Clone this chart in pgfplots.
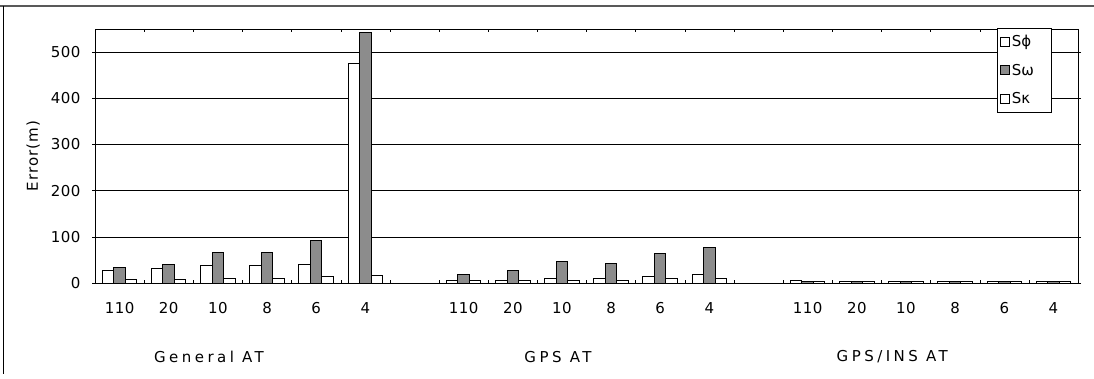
\documentclass[border=0pt]{standalone}
\usepackage{fontspec}
\setmainfont{DejaVu Sans}
\newfontfamily\lsA[LetterSpace=3]{DejaVu Sans}
\newfontfamily\lsY[LetterSpace=7]{DejaVu Sans}
\newfontfamily\lsB[LetterSpace=23]{DejaVu Sans}
\usepackage{pgfplots}
\pgfplotsset{compat=1.18}
\begin{document}
\begin{tikzpicture}[x=1pt,y=1pt]
\useasboundingbox (0,0) rectangle (1094,378);
\draw[line width=2pt, black!65] (0,372) -- (1094,372);
\draw[line width=0.8pt] (3,372) -- (3,4);
\begin{axis}[
  at={(95pt,95pt)}, anchor=south west,
  scale only axis, width=983pt, height=254pt,
  ybar=0pt, bar width=11.5pt,
  xmin=-0.5, xmax=19.5, ymin=0, ymax=550,
  xtick={0,1,2,3,4,5,7,8,9,10,11,12,14,15,16,17,18,19},
  xticklabels={110,20,10,8,6,4,110,20,10,8,6,4,110,20,10,8,6,4},
  minor xtick={-0.5,0.5,...,19.5},
  major x tick style={draw=none},
  minor x tick style={draw=black, thin},
  minor tick length=3pt,
  xtick align=inside,
  ytick={0,100,...,500},
  ytick style={draw=black, thin},
  ytick align=outside, major tick length=3pt,
  ymajorgrids, grid style={black, line width=0.6pt},
  axis line style={black, line width=0.8pt},
  /pgf/number format/assume math mode=true,
  tick label style={font=\lsA\fontsize{15}{18}\selectfont},
  xticklabel style={yshift=-16pt},
  yticklabel style={xshift=-8pt},
  ylabel={Error(m)},
  every axis y label/.style={at={(rel axis cs:-0.063,0.5)}, rotate=90, anchor=center, font=\lsY\fontsize{15}{18}\selectfont},
  legend style={at={(1,1)}, anchor=north east, xshift=-27pt, yshift=1pt,
    draw=black, fill=white, font=\fontsize{15}{18}\selectfont, row sep=12pt,
    inner xsep=3pt, inner ysep=5pt},
  legend cell align=left,
  clip=false,
  sq/.style={legend image code/.code={\draw[##1, line width=1pt] (0pt,-4.5pt) rectangle (9pt,4.5pt);}},
]
\addplot[draw=black, fill=white, line width=1pt, sq] coordinates {
(0,28) (1,32) (2,37) (3,37) (4,40) (5,475)
(7,5) (8,5) (9,9) (10,9) (11,14) (12,19)
(14,5) (15,4) (16,4) (17,4) (18,4) (19,4)};
\addplot[draw=black, fill=black!45, line width=1pt, sq] coordinates {
(0,33) (1,40) (2,65) (3,65) (4,92) (5,543)
(7,19) (8,28) (9,47) (10,43) (11,63) (12,77)
(14,4) (15,4) (16,4) (17,4) (18,4) (19,4)};
\addplot[draw=black, fill=white, line width=1pt, sq] coordinates {
(0,7) (1,7) (2,10) (3,10) (4,15) (5,17)
(7,5) (8,5) (9,5) (10,5) (11,9) (12,9)
(14,4) (15,4) (16,4) (17,4) (18,4) (19,4)};
\legend{\makebox[34pt][l]{Sϕ},\makebox[34pt][l]{Sω},\makebox[34pt][l]{Sκ}}
\node[font=\lsB\fontsize{15}{18}\selectfont] at ([yshift=-74pt]rel axis cs:0.116,0) {General AT};
\node[font=\lsB\fontsize{15}{18}\selectfont] at ([yshift=-74pt]rel axis cs:0.471,0) {GPS AT};
\node[font=\lsB\fontsize{15}{18}\selectfont] at ([yshift=-74pt]rel axis cs:0.811,0) {GPS/INS AT};
\end{axis}
\end{tikzpicture}
\end{document}
